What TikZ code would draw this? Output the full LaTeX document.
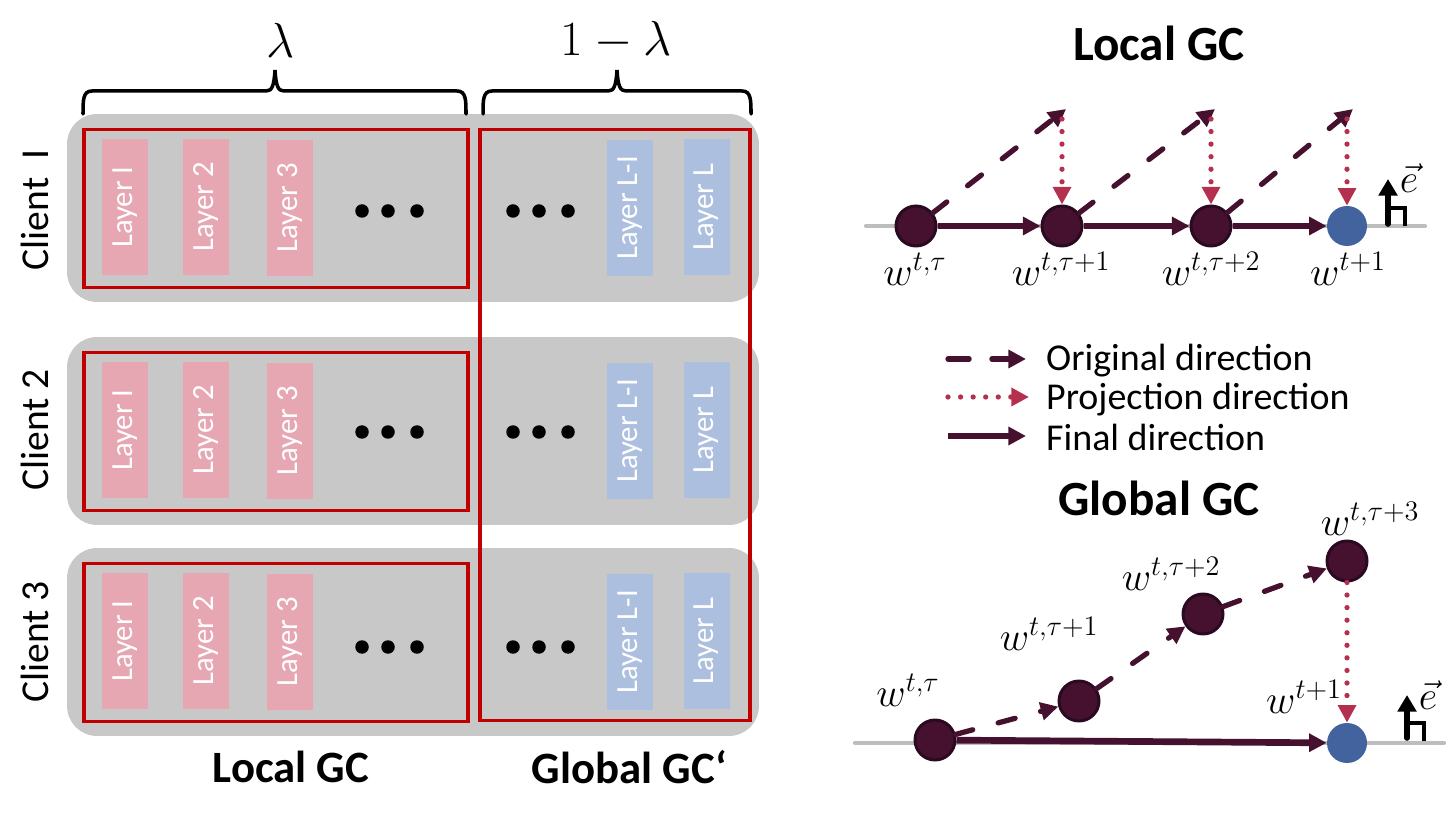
\RequirePackage{fix-cm}
\documentclass[tikz,border=0pt]{standalone}
\usepackage{amsmath}
\usepackage[no-math]{fontspec}
\setmainfont{Carlito}
\usetikzlibrary{arrows.meta}
\definecolor{panelgray}{HTML}{C8C8C8}
\definecolor{framered}{HTML}{C00000}
\definecolor{layerpink}{HTML}{E6A7B3}
\definecolor{layerblue}{HTML}{ADBFDE}
\definecolor{wine}{HTML}{45112F}
\definecolor{wineedge}{HTML}{2A0A20}
\definecolor{dotred}{HTML}{B5304F}
\definecolor{endblue}{HTML}{42639E}
\definecolor{axisgray}{HTML}{BDBDBD}

\begin{document}
\begin{tikzpicture}[x=0.02cm,y=-0.02cm,line cap=round,
		panel/.style={fill=panelgray,rounded corners=.6cm,minimum width=13.84cm,minimum height=3.76cm,inner sep=0},
		frame/.style={draw=framered,line width=2.2pt,line cap=butt,inner sep=0},
		layerbox/.style={rotate=90,text=white,minimum width=2.72cm,minimum height=.92cm,inner sep=0,font=\fontsize{17.5}{21}\selectfont},
		bullet/.style={circle,inner sep=0,minimum size=.27cm,fill},
		client/.style={rotate=90,font=\fontsize{22.5}{27}\selectfont},
		title/.style={font=\bfseries\fontsize{28}{32}\selectfont},
		caption/.style={font=\bfseries\fontsize{25.5}{30}\selectfont},
		wnode/.style={circle,draw=wineedge,fill=wine,line width=1.7pt,minimum size=.8cm,inner sep=0},
		endnode/.style={circle,fill=endblue,minimum size=.8cm,inner sep=0},
		wlabel/.style={font=\fontsize{23}{26}\selectfont},
		legend/.style={anchor=west,font=\fontsize{21.6}{24}\selectfont},
		axisline/.style={draw=axisgray,line width=2.4pt},
		original/.style={draw=wine,line width=3pt,dash pattern=on 10pt off 15pt,-{Triangle[length=10pt,width=10pt]}},
		projection/.style={draw=dotred,line width=3pt,dash pattern=on 0pt off 7.15pt,-{Triangle[length=10pt,width=10pt]}},
		final/.style={draw=wine,line width=3.8pt,line cap=butt,-{Triangle[length=10pt,width=10pt]}},
		normalarrow/.style={line width=3.2pt,-{Triangle[length=9.5pt,width=10.5pt]}},
		perpmark/.style={line width=1.8pt,line cap=butt}]
	\useasboundingbox (0,0) rectangle (1446,813);
	
	% clients
	\foreach \row/\off/\dotoff/\txtoff in {1/0/211/210,2/223/432/430,3/434/647/642}{
		\node[panel] (panel\row) at (413,208+\off) {};
		\node[frame,minimum width=7.69cm,minimum height=3.16cm] (local\row) at (276,208.5+\off) {};
		\node[client] (client\row) at (35,\txtoff) {Client \ifnum\row=1 \ I\else\row\fi};
		\foreach \X/\Y/\name/\txt in {125/207/a/Layer I,206/207/b/Layer 2,290/208/c/Layer 3}
			{\node[layerbox,fill=layerpink] (\name\row) at (\X,\Y+\off) {\txt};}
		\foreach \X/\Y/\name/\txt in {630/208/d/Layer L-I,706.5/207/e/Layer L}
			{\node[layerbox,fill=layerblue] (\name\row) at (\X,\Y+\off) {\txt};}
		\foreach \X in {362,388,417,513,539,568}
			{\node[bullet] (dot\row\X) at (\X,\dotoff) {};}
	}
	\node[frame,minimum width=5.4cm,minimum height=11.82cm] (global) at (615,425) {};
	
	% braces
	\foreach \L/\M/\R in {83/275/466,483/617/751}
		{\draw[line width=2pt] (\L,114) .. controls (\L,100) and (\L,91) .. (\L+9,91) -- (\M-9,91)
			.. controls (\M-3,91) and (\M-1,86) .. (\M,70) .. controls (\M+1,86) and (\M+3,91) .. (\M+9,91)
			-- (\R-9,91) .. controls (\R,91) and (\R,100) .. (\R,114);}
	\node[font=\fontsize{28}{32}\selectfont] (lam) at (281,40) {$\lambda$};
	\node[font=\fontsize{28}{32}\selectfont] (lamc) at (616,40) {$1-\lambda$};
	\node[caption] (capl) at (291,767) {Local GC};
	\node[caption] (capg) at (629,767) {Global GC`};
	
	% local GC
	\node[title] (titlel) at (1159,43) {Local GC};
	\draw[axisline] (866,226) -- (1425,226);
	\node[wnode] (l1) at (916,226) {};
	\node[wnode] (l2) at (1062,226) {};
	\node[wnode] (l3) at (1211,226) {};
	\node[endnode] (l4) at (1347,226) {};
	\coordinate (ta) at (1066,109);
	\coordinate (tb) at (1215,109);
	\coordinate (tc) at (1353,109);
	\coordinate (pa) at (1062,119);
	\coordinate (pb) at (1211,119);
	\coordinate (pc) at (1347,119);
	\draw[original] (l1) -- (ta);
	\draw[original] (l2) -- (tb);
	\draw[original] (l3) -- (tc);
	\draw[projection] (pa) -- (l2);
	\draw[projection] (pb) -- (l3);
	\draw[projection] (pc) -- (l4);
	\draw[final] (l1) -- (l2);
	\draw[final] (l2) -- (l3);
	\draw[final] (l3) -- (l4);
	\node[wlabel] (wl1) at (915,269) {$w^{t,\tau}$};
	\node[wlabel] (wl2) at (1061,269) {$w^{t,\tau+1}$};
	\node[wlabel] (wl3) at (1211,269) {$w^{t,\tau+2}$};
	\node[wlabel] (wl4) at (1348,269) {$w^{t+1}$};
	\coordinate (ea) at (1388,224);
	\coordinate (eb) at (1388,179);
	\draw[normalarrow] (ea) -- (eb);
	\draw[perpmark] (1388,208) -- (1405,208) -- (1405,226);
	\node[wlabel] (el) at (1409,178) {$\vec{e}$};
	
	% legend
	\coordinate (ka) at (948,359);
	\coordinate (kb) at (1026,359);
	\coordinate (kc) at (948,397);
	\coordinate (kd) at (1029,397);
	\coordinate (ke) at (948,436);
	\coordinate (kf) at (1026,436);
	\draw[original,dash pattern=on 12pt off 13pt] (ka) -- (kb);
	\draw[projection] (kc) -- (kd);
	\draw[final] (ke) -- (kf);
	\node[legend] (ko) at (1040,361) {Original direction};
	\node[legend] (kp) at (1040,400) {Projection direction};
	\node[legend] (kq) at (1040,437) {Final direction};
	
	% global GC
	\node[title] (titleg) at (1159,498) {Global GC};
	\draw[axisline] (855,743) -- (1444,743);
	\node[wnode] (g1) at (935,740) {};
	\node[wnode] (g2) at (1079,701) {};
	\node[wnode] (g3) at (1203,614) {};
	\node[wnode] (g4) at (1347,561) {};
	\node[endnode] (g5) at (1347,743) {};
	\draw[original] (g1) -- (g2);
	\draw[original] (g2) -- (g3);
	\draw[original] (g3) -- (g4);
	\draw[projection] (g4) -- (g5);
	\draw[final] (g1) -- (g5);
	\node[wlabel] (wg1) at (908,690) {$w^{t,\tau}$};
	\node[wlabel] (wg2) at (1049,634) {$w^{t,\tau+1}$};
	\node[wlabel] (wg3) at (1171,574) {$w^{t,\tau+2}$};
	\node[wlabel] (wg4) at (1370,519) {$w^{t,\tau+3}$};
	\node[wlabel] (wg5) at (1304,697) {$w^{t+1}$};
	\coordinate (ec) at (1407,738);
	\coordinate (ed) at (1407,695);
	\draw[normalarrow] (ec) -- (ed);
	\draw[perpmark] (1407,723) -- (1424,723) -- (1424,741);
	\node[wlabel] (eg) at (1428,695) {$\vec{e}$};
\end{tikzpicture}
\end{document}
